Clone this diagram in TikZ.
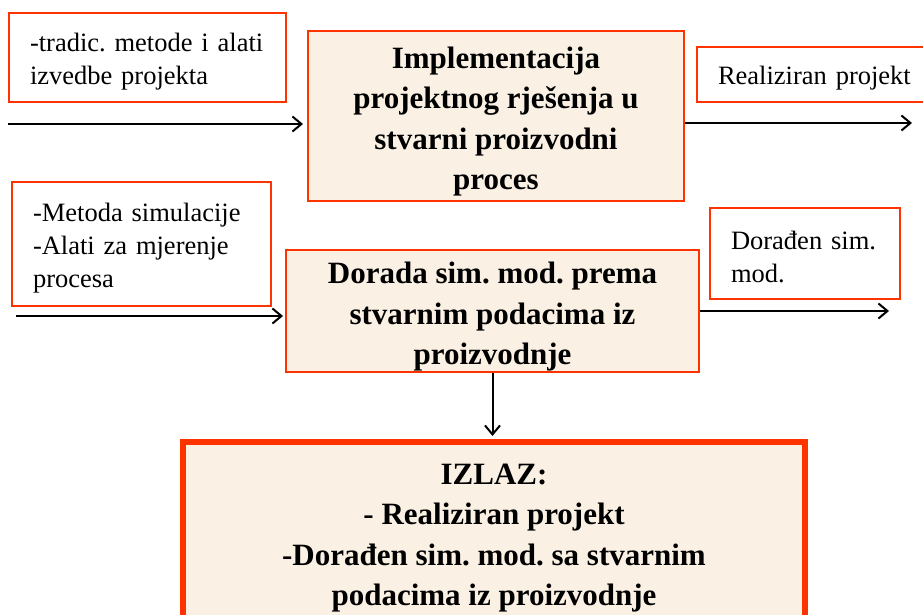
\documentclass[tikz,border=0pt]{standalone}
\usepackage{fontspec}
\setmainfont{Liberation Serif}
\usetikzlibrary{arrows.meta, calc}
\definecolor{boxred}{HTML}{FF3300}
\definecolor{boxfill}{HTML}{FAF1E4}
\newcommand{\notegap}{\rule{0pt}{26pt}}
\newcommand{\procgap}{\rule{0pt}{33pt}}
\tikzset{
    notebox/.style={draw=boxred, line width=2pt, fill=white, inner sep=0pt, inner xsep=21pt,
        align=left, font=\frenchspacing\fontsize{26.5}{33}\selectfont},
    procbox/.style={draw=boxred, line width=2pt, fill=boxfill, inner sep=0pt,
        align=center, font=\frenchspacing\bfseries\fontsize{31}{40.5}\selectfont},
    flow/.style={-{Straight Barb[length=9pt,width=15pt,line width=2pt]}, line width=2pt}
}

\begin{document}
\begin{tikzpicture}[x=1pt, y=-1pt]
        \useasboundingbox (0,0) rectangle (923,615);

        % Explicit Coordinates: picture measured in pixels, y grows downwards
        \coordinate (A1) at (8, 124);      % input to top process
        \coordinate (A2) at (912, 123);    % output of top process
        \coordinate (B1) at (16, 316);     % input to middle process
        \coordinate (B2) at (889, 311);    % output of middle process

        % Input / output notes
        \node[notebox, text width=235pt, minimum height=89pt] (tools) at (147.5, 57.5)
            {\notegap -tradic. metode i alati\\izvedbe projekta};
        \node[notebox, text width=196pt, minimum height=55pt] (result) at (816, 74.5)
            {\notegap Realiziran projekt};
        \node[notebox, text width=217pt, minimum height=124pt] (simtools) at (141.5, 244)
            {\notegap -Metoda simulacije\\-Alati za mjerenje\\procesa};
        \node[notebox, text width=148pt, minimum height=91pt] (refined) at (805, 253.5)
            {\notegap Dorađen sim.\\mod.};

        % Process boxes
        \node[procbox, minimum width=376pt, minimum height=170pt] (impl) at (496, 116)
            {\procgap Implementacija\\projektnog rješenja u\\stvarni proizvodni\\proces};
        \node[procbox, minimum width=413pt, minimum height=122pt] (dorada) at (492.5, 311)
            {\procgap Dorada sim. mod. prema\\stvarnim podacima iz\\proizvodnje};
        \node[procbox, line width=6pt, minimum width=622pt, minimum height=180pt] (izlaz) at (494, 532)
            {\procgap IZLAZ:\\- Realiziran projekt\\-Dorađen sim. mod. sa stvarnim\\podacima iz proizvodnje};

        % Flows
        \draw[flow, shorten >=4pt] (A1) -- (A1 -| impl.west);
        \draw[flow] (A2 -| impl.east) -- (A2);
        \draw[flow, shorten >=2pt] (B1) -- (B1 -| dorada.west);
        \draw[flow] (B2 -| dorada.east) -- (B2);
        \draw[flow, shorten >=3pt] (dorada.south) -- (dorada.south |- izlaz.north);
    \end{tikzpicture}
\end{document}
